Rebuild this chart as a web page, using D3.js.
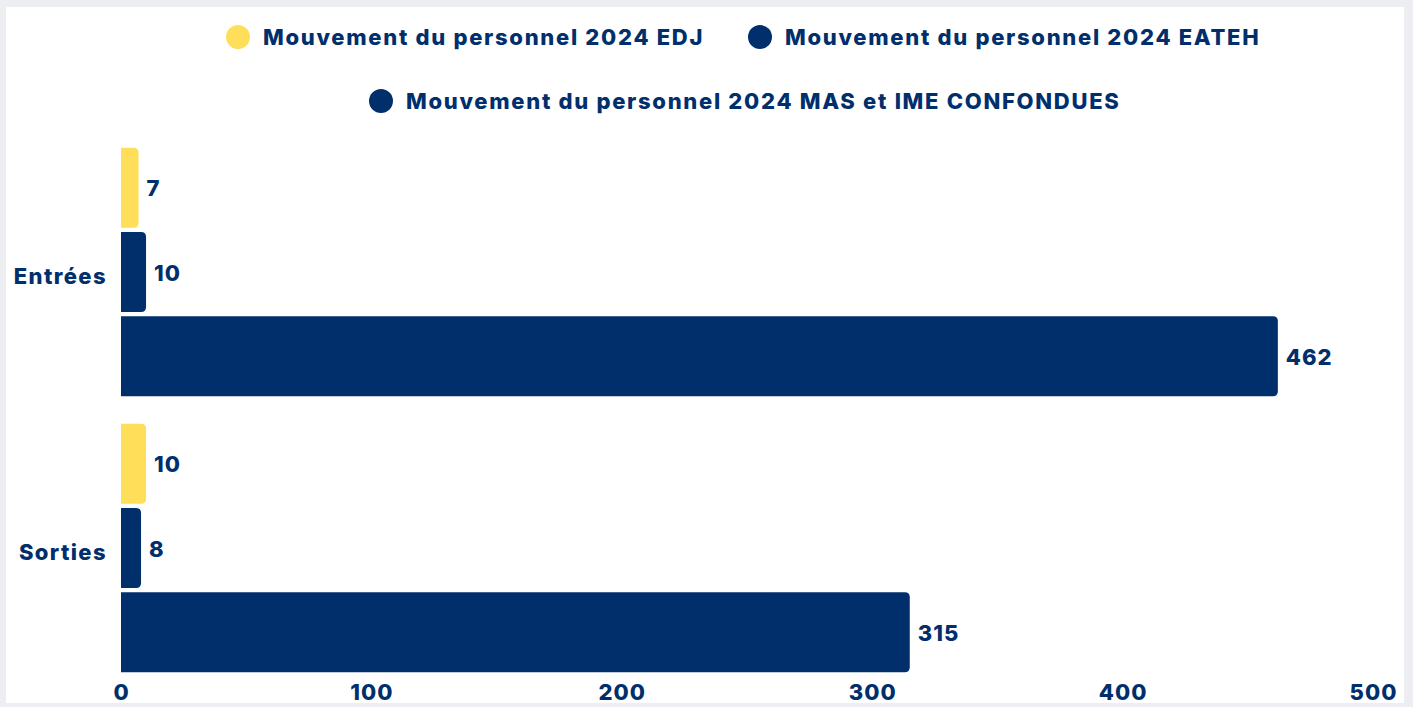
<!DOCTYPE html>
<html>
<head>
<meta charset="utf-8">
<script src="https://cdn.jsdelivr.net/npm/d3@7"></script>
<style>
  body { margin: 0; background: #eceef1; }
  svg { display: block; }
  text { font-family: Inter, "Open Sans", sans-serif; font-weight: 800; fill: #002f6c; }
</style>
</head>
<body>
<script>
const categories = ["Entrées", "Sorties"];
const seriesNames = [
    "Mouvement du personnel 2024 EDJ",
    "Mouvement du personnel 2024 EATEH",
    "Mouvement du personnel 2024 MAS et IME CONFONDUES"
];
const seriesColors = ["#ffde59", "#002f6c", "#002f6c"];
const edj = [7, 10];
const eateh = [10, 8];
const masIme = [462, 315];
const xTicks = [0, 100, 200, 300, 400, 500];

const W = 1413, H = 707;
const allSeries = [edj, eateh, masIme];

const svg = d3.select("body").append("svg")
    .attr("width", W)
    .attr("height", H);

// white panel
svg.append("rect")
    .attr("x", 6).attr("y", 7)
    .attr("width", 1398).attr("height", 696)
    .attr("fill", "#fff");

let xScale = d3.scaleLinear()
    .domain([0, 500])
    .range([121, 1373]);

let y0 = d3.scaleBand()
    .domain(categories)
    .range([134, 686])
    .paddingInner(0.1)
    .paddingOuter(0.05);

let y1 = d3.scaleBand()
    .domain(d3.range(seriesNames.length))
    .range([0, y0.bandwidth()])
    .paddingInner(0.05);

// bar with rounded right corners only
function barPath(x0, x1, y, h, r) {
    r = Math.min(r, (x1 - x0) / 2, h / 2);
    return "M" + x0 + "," + y +
        "H" + (x1 - r) +
        "Q" + x1 + "," + y + " " + x1 + "," + (y + r) +
        "V" + (y + h - r) +
        "Q" + x1 + "," + (y + h) + " " + (x1 - r) + "," + (y + h) +
        "H" + x0 + "Z";
}

categories.forEach((cat, ci) => {
    let g = svg.append("g")
        .attr("transform", "translate(0," + y0(cat) + ")");

    allSeries.forEach((vals, si) => {
        let v = vals[ci];
        let yy = y1(si);
        g.append("path")
            .attr("d", barPath(xScale(0), xScale(v), yy, y1.bandwidth(), 5))
            .attr("fill", seriesColors[si]);
        g.append("text")
            .attr("x", xScale(v) + 8)
            .attr("y", yy + y1.bandwidth() / 2 + 1)
            .attr("dy", "0.35em")
            .attr("font-size", 22)
            .style("letter-spacing", "1px")
            .text(v);
    });

    svg.append("text")
        .attr("x", 107)
        .attr("y", y0(cat) + y0.bandwidth() / 2 + 4)
        .attr("dy", "0.35em")
        .attr("text-anchor", "end")
        .attr("font-size", 22)
        .style("letter-spacing", "1.4px")
        .text(cat);
});

// x axis
let xAxis = svg.append("g")
    .attr("transform", "translate(0,684)")
    .call(d3.axisBottom(xScale).tickValues(xTicks).tickSize(0).tickPadding(0));
xAxis.select(".domain").remove();
xAxis.selectAll("text")
    .attr("font-size", 22)
    .attr("dy", "0.71em")
    .style("font-family", "Inter, sans-serif")
    .style("font-weight", 800)
    .style("letter-spacing", "1px")
    .attr("fill", "#002f6c");

// legend
const legendPos = [
    {cx: 238, cy: 37},
    {cx: 760, cy: 37},
    {cx: 381, cy: 101}
];
seriesNames.forEach((name, i) => {
    let p = legendPos[i];
    svg.append("circle")
        .attr("cx", p.cx).attr("cy", p.cy)
        .attr("r", 12)
        .attr("fill", seriesColors[i]);
    svg.append("text")
        .attr("x", p.cx + 25)
        .attr("y", p.cy)
        .attr("dy", "0.35em")
        .attr("font-size", 22)
        .style("letter-spacing", "1.7px")
        .text(name);
});
</script>
</body>
</html>
